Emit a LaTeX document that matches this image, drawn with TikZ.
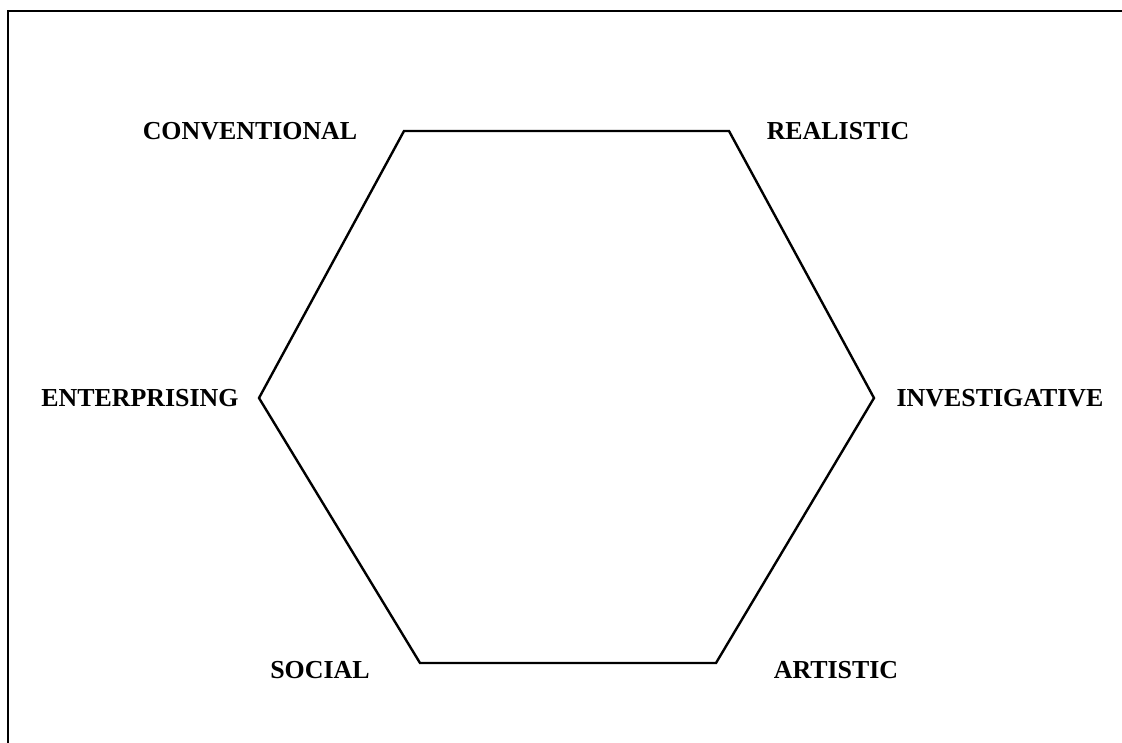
\documentclass[tikz,border=0pt]{standalone}
\usepackage{fontspec}
\setmainfont{Liberation Serif}
\begin{document}
\begin{tikzpicture}[x=1pt,y=-1pt,
  lbl/.style={anchor=base,inner sep=0pt,font=\fontsize{25.9}{30}\selectfont\bfseries},
  hexline/.style={line width=2.4pt,line join=miter},
  frameline/.style={line width=2.6pt}]
\useasboundingbox (0,0) rectangle (1122,743);
% frame (top and left edges only)
\coordinate (ftr) at (1124,11);
\coordinate (ftl) at (8,11);
\coordinate (fbl) at (8,745);
\draw[frameline] (ftr) -- (ftl) -- (fbl);
% hexagon vertices
\coordinate (C) at (404,131);
\coordinate (R) at (729,131);
\coordinate (I) at (874,398);
\coordinate (A) at (716,663);
\coordinate (S) at (420,663);
\coordinate (E) at (259,398);
\draw[hexline] (C) -- (R) -- (I) -- (A) -- (S) -- (E) -- cycle;
% labels
\node[lbl] (lc) at (250,140) {CONVENTIONAL};
\node[lbl] (lr) at (838,140) {REALISTIC};
\node[lbl] (li) at (1000,406) {INVESTIGATIVE};
\node[lbl] (le) at (140,406) {ENTERPRISING};
\node[lbl] (ls) at (320,678) {SOCIAL};
\node[lbl] (la) at (836,678) {ARTISTIC};
\end{tikzpicture}
\end{document}
